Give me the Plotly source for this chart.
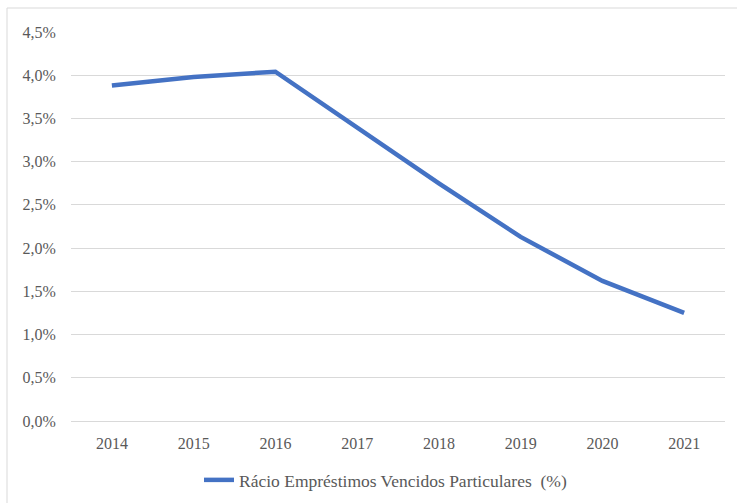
import plotly.graph_objects as go

# Rácio de empréstimos vencidos a particulares, por ano
anos = ["2014", "2015", "2016", "2017", "2018", "2019", "2020", "2021"]
racio = [3.88, 3.98, 4.04, 3.39, 2.75, 2.13, 1.62, 1.25]
y_ticks = [0, 0.5, 1.0, 1.5, 2.0, 2.5, 3.0, 3.5, 4.0, 4.5]
y_labels = [f"{v:.1f}".replace(".", ",") + "%" for v in y_ticks]

W, H = 737, 503
ML, MR, MT, MB = 71, 12, 32, 82
pw, ph = W - ML - MR, H - MT - MB

def px_x(p):
    return (p - ML) / pw

def px_y(p):
    return (H - MB - p) / ph

SERIF = "Liberation Serif, Times New Roman, serif"
GREY = "#595959"

fig = go.Figure()
fig.add_trace(go.Scatter(
    x=anos, y=racio, mode="lines",
    name="Rácio Empréstimos Vencidos Particulares  (%)",
    line=dict(color="#4472C4", width=4.5),
))

fig.update_layout(
    width=W, height=H,
    margin=dict(l=ML, r=MR, t=MT, b=MB, autoexpand=False),
    paper_bgcolor="white", plot_bgcolor="white",
    font=dict(family=SERIF, size=16, color=GREY),
    showlegend=True,
    legend=dict(orientation="h", x=px_x(199), xanchor="left",
                y=px_y(480), yanchor="middle", bgcolor="rgba(0,0,0,0)",
                font=dict(family=SERIF, size=17.5, color=GREY)),
    xaxis=dict(type="category", range=[-0.5, 7.5], showgrid=False,
               showline=False, zeroline=False, ticks="outside",
               ticklen=8, tickcolor="rgba(0,0,0,0)",
               tickfont=dict(family=SERIF, size=16, color=GREY)),
    yaxis=dict(range=[0, 4.5], tickmode="array", tickvals=y_ticks,
               ticktext=y_labels, showgrid=True, gridcolor="#D9D9D9",
               gridwidth=1, zeroline=True, zerolinecolor="#D9D9D9",
               zerolinewidth=1, showline=False, ticks="outside",
               ticklen=11, tickcolor="rgba(0,0,0,0)",
               tickfont=dict(family=SERIF, size=16, color=GREY)),
    # chart frame: only its left and top edges fall inside the page
    shapes=[
        dict(type="line", xref="paper", yref="paper",
             x0=px_x(7), x1=px_x(7), y0=px_y(503), y1=px_y(8),
             line=dict(color="#D9D9D9", width=1), layer="below"),
        dict(type="line", xref="paper", yref="paper",
             x0=px_x(7), x1=px_x(737), y0=px_y(8), y1=px_y(8),
             line=dict(color="#D9D9D9", width=1), layer="below"),
    ],
)

fig.write_html("out.html")
